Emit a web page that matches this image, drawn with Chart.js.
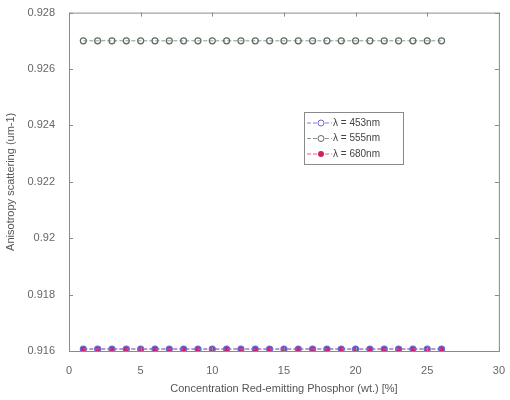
<!DOCTYPE html>
<html><head><meta charset="utf-8">
<script src="https://cdn.jsdelivr.net/npm/chart.js@4"></script>
<style>html,body{margin:0;padding:0;background:#fff}#c{display:block}</style>
</head><body>
<canvas id="c" width="510" height="400"></canvas>
<script>
const concentrations = [1,2,3,4,5,6,7,8,9,10,11,12,13,14,15,16,17,18,19,20,21,22,23,24,25,26];
const g453 = [0.91607,0.91607,0.91607,0.91607,0.91607,0.91607,0.91607,0.91607,0.91607,0.91607,0.91607,0.91607,0.91607,0.91607,0.91607,0.91607,0.91607,0.91607,0.91607,0.91607,0.91607,0.91607,0.91607,0.91607,0.91607,0.91607];
const g555 = [0.927,0.927,0.927,0.927,0.927,0.927,0.927,0.927,0.927,0.927,0.927,0.927,0.927,0.927,0.927,0.927,0.927,0.927,0.927,0.927,0.927,0.927,0.927,0.927,0.927,0.927];
const g680 = [0.91607,0.91607,0.91607,0.91607,0.91607,0.91607,0.91607,0.91607,0.91607,0.91607,0.91607,0.91607,0.91607,0.91607,0.91607,0.91607,0.91607,0.91607,0.91607,0.91607,0.91607,0.91607,0.91607,0.91607,0.91607,0.91607];
const labels = ['λ = 453nm','λ = 555nm','λ = 680nm'];
const xTicks = [0,5,10,15,20,25,30];
const yTicks = [0.916,0.918,0.92,0.922,0.924,0.926,0.928];

const toPts = arr => arr.map((v,i)=>({x:concentrations[i],y:v}));
const FONT = 'Liberation Sans, Arial, sans-serif';

const frame = {
  id:'frame',
  afterDraw(chart){
    const {ctx, chartArea:a, scales:{x,y}} = chart;
    ctx.save();
    ctx.strokeStyle='#8a8a8a'; ctx.lineWidth=1;
    ctx.strokeRect(a.left+0.5,a.top+0.5,a.right-a.left,a.bottom-a.top);
    ctx.beginPath();
    xTicks.forEach(t=>{const px=Math.round(x.getPixelForValue(t))+0.5;
      ctx.moveTo(px,a.bottom);ctx.lineTo(px,a.bottom-4);
      ctx.moveTo(px,a.top);ctx.lineTo(px,a.top+4);});
    yTicks.forEach(t=>{const py=Math.round(y.getPixelForValue(t))+0.5;
      ctx.moveTo(a.left,py);ctx.lineTo(a.left+4,py);
      ctx.moveTo(a.right,py);ctx.lineTo(a.right-4,py);});
    ctx.stroke();
    // legend
    const lx=304, ly=112, lw=99, lh=52;
    ctx.fillStyle='#fff'; ctx.fillRect(lx,ly,lw,lh);
    ctx.strokeStyle='#8a8a8a'; ctx.strokeRect(lx+0.5,ly+0.5,lw,lh);
    ctx.font='10px '+FONT; ctx.textBaseline='middle';
    chart.data.datasets.forEach((ds,i)=>{
      const cy=ly+11+i*15.5;
      ctx.strokeStyle=ds.borderColor; ctx.lineWidth=1; ctx.setLineDash([4,2]);
      ctx.beginPath();ctx.moveTo(lx+3,cy);ctx.lineTo(lx+28,cy);ctx.stroke();
      ctx.setLineDash([]);
      ctx.strokeStyle=ds.pointBorderColor;
      ctx.beginPath();
      ctx.arc(lx+17,cy,3,0,Math.PI*2);
      if(ds.pointStyle==='star'){ctx.fillStyle=ds.pointBorderColor;ctx.fill();}
      else {ctx.fillStyle='#fff';ctx.fill();ctx.stroke();}
      ctx.fillStyle='#444';ctx.textAlign='left';
      ctx.fillText(ds.label,lx+29,cy);
    });
    ctx.restore();
  }
};

new Chart(document.getElementById('c'),{
  type:'line',
  data:{datasets:[
    {label:labels[0],data:toPts(g453),borderColor:'#8080e0',pointBorderColor:'#6a6ad8',pointBackgroundColor:'rgba(255,255,255,0)',pointStyle:'circle',pointRadius:3,borderWidth:1,borderDash:[4,2],pointBorderWidth:1.2},
    {label:labels[1],data:toPts(g555),borderColor:'#8a9a8a',pointBorderColor:'#5c6c60',pointBackgroundColor:'rgba(255,255,255,0)',pointStyle:'circle',pointRadius:3,borderWidth:1,borderDash:[4,2],pointBorderWidth:1.2},
    {label:labels[2],data:toPts(g680),borderColor:'#f06080',pointBorderColor:'#d02060',pointBackgroundColor:'#d02060',pointStyle:'star',pointRadius:3,borderWidth:1,borderDash:[4,2],pointBorderWidth:2}
  ]},
  options:{
    responsive:false,animation:false,
    layout:{padding:{top:11,right:9,left:0,bottom:0}},
    plugins:{legend:{display:false},tooltip:{enabled:false}},
    scales:{
      x:{type:'linear',min:0,max:30,
        afterBuildTicks:s=>{s.ticks=xTicks.map(v=>({value:v}));},
        afterFit:s=>{s.height=49;},
        grid:{display:false},border:{display:false},
        ticks:{color:'#666',font:{family:FONT,size:11},padding:5,maxRotation:0},
        title:{display:true,text:'Concentration Red-emitting Phosphor (wt.) [%]',color:'#555',font:{family:FONT,size:11},padding:{top:1}}},
      y:{type:'linear',min:0.916,max:0.928,
        afterBuildTicks:s=>{s.ticks=yTicks.map(v=>({value:v}));},
        afterFit:s=>{s.width=69;},
        grid:{display:false},border:{display:false},
        ticks:{color:'#666',font:{family:FONT,size:11},padding:6,callback:v=>String(+v.toFixed(3))},
        title:{display:true,text:'Anisotropy scattering (um-1)',color:'#555',font:{family:FONT,size:11},padding:{bottom:2}}}
    }
  },
  plugins:[frame]
});
</script>
</body></html>
